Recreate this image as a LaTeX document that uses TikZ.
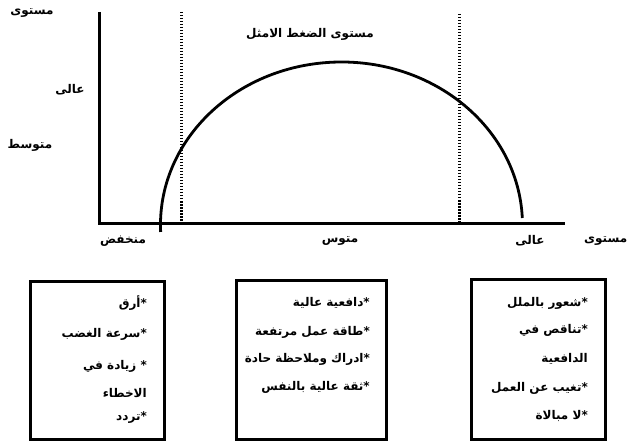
\documentclass[tikz,border=0pt]{standalone}
\usepackage{fontspec}
\newfontfamily\arabicfont[Script=Arabic]{DejaVu Sans}
\TeXXeTstate=1
\newcommand{\ar}[1]{\arabicfont\bfseries\beginR #1\endR}
\begin{document}
\begin{tikzpicture}[x=1pt,y=1pt,
  lbl/.style={inner sep=0pt,font=\fontsize{12}{14}\selectfont},
  item/.style={lbl,anchor=east},
  axisline/.style={line width=3pt},
  dotline/.style={line width=3pt,dash pattern=on 1.5pt off 1.5pt},
  boxframe/.style={draw,line width=2.8pt}]
\useasboundingbox (0,0) rectangle (628,442);
% axes
\coordinate (ytop) at (99,430);
\coordinate (orig) at (99,218);
\coordinate (xend) at (565,218);
\draw[axisline] (ytop) -- (orig) -- (xend);
% dotted limits
\coordinate (d1t) at (181,430);
\coordinate (d1b) at (181,218);
\coordinate (d2t) at (459,428);
\coordinate (d2b) at (459,218);
\draw[dotline] (d1t) -- (d1b);
\draw[dotline] (d2t) -- (d2b);
% curve
\coordinate (cstart) at (522.3,224);
\draw[line width=2.8pt] (cstart) arc[start angle=2.46,end angle=182.46,x radius=181,y radius=163];
% axis labels
\node[lbl] (ylab) at (32,429) {\ar{مستوى}};
\node[lbl] (yhigh) at (70,352) {\ar{عالى}};
\node[lbl] (ymid) at (30,297) {\ar{متوسط}};
\node[lbl] (title) at (310,408) {\ar{مستوى الضغط الامثل}};
\node[lbl] (xlow) at (123,201) {\ar{منخفض}};
\node[lbl] (xmid) at (340,201) {\ar{متوس}};
\node[lbl] (xhigh) at (530,201) {\ar{عالى}};
\node[lbl,anchor=west] (xlab) at (584,201) {\ar{مستوى}};
% boxes
\node[boxframe,minimum width=134pt,minimum height=158pt,anchor=south west,inner sep=0pt] (b1) at (29,1) {};
\node[boxframe,minimum width=150pt,minimum height=159pt,anchor=south west,inner sep=0pt] (b2) at (235,1) {};
\node[boxframe,minimum width=134pt,minimum height=160pt,anchor=south west,inner sep=0pt] (b3) at (470,1) {};
% box 1
\node[item] (a1) at (147,139) {\ar{*أرق}};
\node[item] (a2) at (147,108) {\ar{*سرعة الغضب}};
\node[item] (a3) at (147,76) {\ar{* زيادة في}};
\node[item] (a4) at (147,49) {\ar{الاخطاء}};
\node[item] (a5) at (147,24) {\ar{*تردد}};
% box 2
\node[item] (m1) at (370,139) {\ar{*دافعية عالية}};
\node[item] (m2) at (370,110) {\ar{*طاقة عمل مرتفعة}};
\node[item] (m3) at (370,83) {\ar{*ادراك وملاحظة حادة}};
\node[item] (m4) at (370,55) {\ar{*ثقة عالية بالنفس}};
% box 3
\node[item] (h1) at (588,139) {\ar{*شعور بالملل}};
\node[item] (h2) at (588,112) {\ar{*تناقص في}};
\node[item] (h3) at (588,83) {\ar{الدافعية}};
\node[item] (h4) at (588,54) {\ar{*تغيب عن العمل}};
\node[item] (h5) at (588,26) {\ar{*لا مبالاة}};
\end{tikzpicture}
\end{document}
